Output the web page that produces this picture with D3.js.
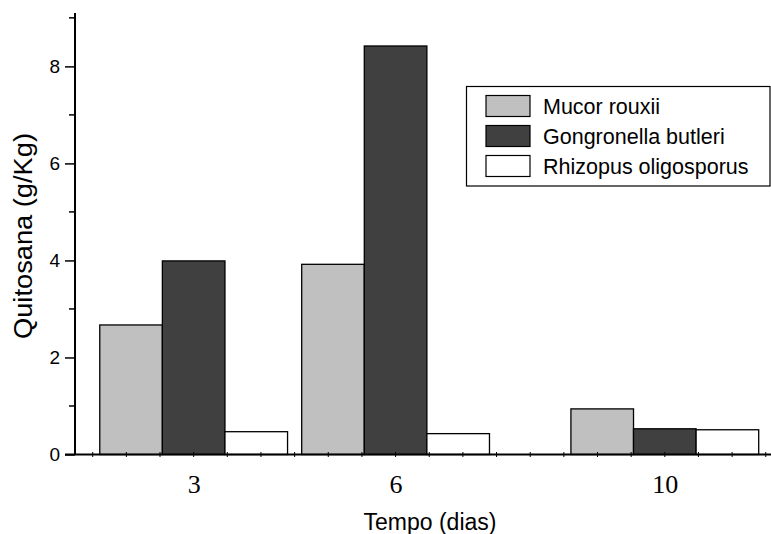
<!DOCTYPE html>
<html>
<head>
<meta charset="utf-8">
<script src="https://cdn.jsdelivr.net/npm/d3@7"></script>
<style>
  body { margin: 0; background: #fff; }
  svg { display: block; }
</style>
</head>
<body>
<svg id="chart"></svg>
<script>
const WIDTH = 771;
const HEIGHT = 534;

// data
const days = [3, 6, 10];
const seriesNames = ['Mucor rouxii', 'Gongronella butleri', 'Rhizopus oligosporus'];
const seriesColors = ['#c0c0c0', '#404040', '#ffffff'];
const mucor = [2.67, 3.92, 0.94];
const gongronella = [3.99, 8.42, 0.53];
const rhizopus = [0.47, 0.43, 0.51];
const yTicks = [0, 2, 4, 6, 8];

const seriesValues = [mucor, gongronella, rhizopus];
const BAR_W = 0.93; // bar width in days

const svg = d3.select('#chart')
  .attr('width', WIDTH)
  .attr('height', HEIGHT);

const xScale = d3.scaleLinear()
  .domain([1.237, 11.6])
  .range([75, 772.5]);

const yScale = d3.scaleLinear()
  .domain([0, 9.1])
  .range([454.5, 13]);

// bars
const bars = [];
seriesValues.forEach((vals, s) => {
  vals.forEach((v, i) => {
    bars.push({ s: s, day: days[i], value: v });
  });
});

svg.append('g')
  .selectAll('rect')
  .data(bars)
  .enter()
  .append('rect')
  .attr('x', d => xScale(d.day + (d.s - 1) * BAR_W - BAR_W / 2))
  .attr('width', d => xScale(BAR_W) - xScale(0))
  .attr('y', d => yScale(d.value))
  .attr('height', d => yScale(0) - yScale(d.value))
  .attr('fill', d => seriesColors[d.s])
  .attr('stroke', '#000')
  .attr('stroke-width', 1.3);

// y axis
const yAxis = svg.append('g')
  .attr('transform', `translate(${xScale.range()[0]},0)`)
  .call(d3.axisLeft(yScale).tickValues(yTicks).tickSize(10).tickPadding(5).tickFormat(d3.format('d')));
yAxis.select('.domain').attr('d', `M0,${yScale(9.1)}V${yScale(0)}`).attr('stroke-width', 2);
yAxis.selectAll('.tick line').attr('stroke-width', 1.5);
yAxis.selectAll('.tick text')
  .attr('font-family', 'Liberation Sans, Arial, sans-serif')
  .attr('font-size', 19)
  .attr('fill', '#000');
yAxis.selectAll('.minor')
  .data(d3.range(1, 10, 2))
  .enter()
  .append('line')
  .attr('class', 'minor')
  .attr('x1', -6)
  .attr('x2', 0)
  .attr('y1', d => yScale(d))
  .attr('y2', d => yScale(d))
  .attr('stroke', '#000')
  .attr('stroke-width', 1.5);

// x axis
const xAxis = svg.append('g')
  .attr('transform', `translate(0,${yScale(0)})`)
  .call(d3.axisBottom(xScale).tickValues(days).tickSize(0).tickPadding(20).tickFormat(d3.format('d')));
xAxis.select('.domain').attr('d', `M65,0H${WIDTH}`).attr('stroke-width', 2);
xAxis.selectAll('.tick text')
  .attr('font-family', 'Liberation Serif, Times New Roman, serif')
  .attr('font-size', 26)
  .attr('fill', '#000');
xAxis.selectAll('.minor')
  .data(d3.range(1.5, 11.6, 0.5))
  .enter()
  .append('line')
  .attr('class', 'minor')
  .attr('x1', d => xScale(d))
  .attr('x2', d => xScale(d))
  .attr('y1', -2.5)
  .attr('y2', 2.5)
  .attr('stroke', '#000')
  .attr('stroke-width', 1);

// axis titles
svg.append('text')
  .attr('x', 430)
  .attr('y', 530)
  .attr('text-anchor', 'middle')
  .attr('font-family', 'Liberation Sans, Arial, sans-serif')
  .attr('font-size', 23)
  .text('Tempo (dias)');

svg.append('text')
  .attr('transform', 'translate(32,236) rotate(-90)')
  .attr('text-anchor', 'middle')
  .attr('font-family', 'Liberation Sans, Arial, sans-serif')
  .attr('font-size', 25)
  .attr('textLength', 206)
  .attr('lengthAdjust', 'spacingAndGlyphs')
  .text('Quitosana (g/Kg)');

// legend
const legend = svg.append('g');
legend.append('rect')
  .attr('x', 466.5)
  .attr('y', 86.5)
  .attr('width', 303.5)
  .attr('height', 99.5)
  .attr('fill', '#fff')
  .attr('stroke', '#000')
  .attr('stroke-width', 1.2);

const rows = legend.selectAll('.row')
  .data(seriesNames)
  .enter()
  .append('g')
  .attr('class', 'row')
  .attr('transform', (d, i) => `translate(0,${95.5 + i * 30})`);
rows.append('rect')
  .attr('x', 486)
  .attr('y', 0)
  .attr('width', 44)
  .attr('height', 21)
  .attr('fill', (d, i) => seriesColors[i])
  .attr('stroke', '#000')
  .attr('stroke-width', 1.2);
rows.append('text')
  .attr('x', 543)
  .attr('y', 18)
  .attr('font-family', 'Liberation Sans, Arial, sans-serif')
  .attr('font-size', 21.5)
  .text(d => d);
</script>
</body>
</html>
